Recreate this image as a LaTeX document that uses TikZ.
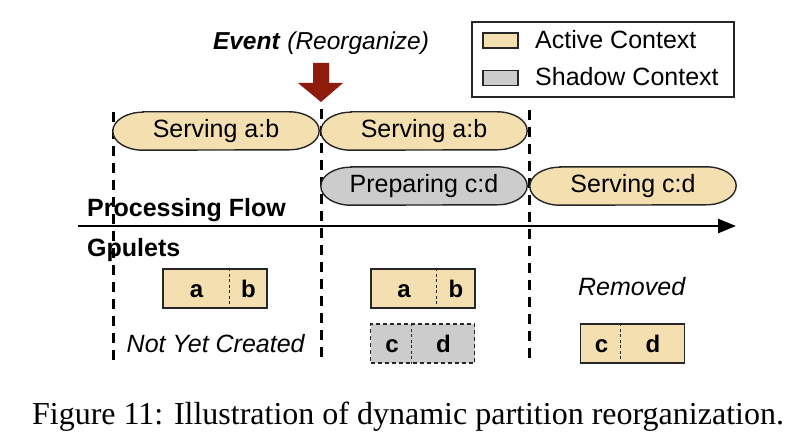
\documentclass[tikz,border=0pt]{standalone}
\usepackage{fontspec}
\setmainfont{Liberation Sans}
\newfontfamily\capfont{Liberation Serif}
\usetikzlibrary{arrows.meta,backgrounds,calc}
\definecolor{activec}{HTML}{F3DFB0}
\definecolor{shadowc}{HTML}{CCCCCC}
\definecolor{eventred}{HTML}{8E1B0C}
\definecolor{edgec}{HTML}{262626}
\newcommand\pillshape[2]{%
  \path[#2] ([xshift=30pt]#1.north west) -- ([xshift=-30pt]#1.north east)
    arc[start angle=90,end angle=-90,x radius=30pt,y radius=19pt]
    -- ([xshift=30pt]#1.south west)
    arc[start angle=270,end angle=90,x radius=30pt,y radius=19pt] -- cycle;}
\begin{document}
\begin{tikzpicture}[x=1pt,y=1pt,
  lbl/.style={font=\fontsize{25}{29}\selectfont, inner sep=0pt},
  pillnode/.style={lbl, minimum width=206pt, minimum height=38pt},
  activefill/.style={fill=activec, draw=edgec, line width=1.4pt},
  shadowfill/.style={fill=shadowc, draw=edgec, line width=1.4pt},
  divider/.style={draw=edgec, line width=1pt, dash pattern=on 3pt off 2.5pt},
  timeline/.style={line width=3pt, dash pattern=on 10pt off 7pt},
  gbox/.style={minimum width=104pt, minimum height=39pt, inner sep=0pt},
  letter/.style={font=\fontsize{24}{28}\selectfont\bfseries, inner sep=0pt, anchor=base},
  swatch/.style={minimum width=35pt, minimum height=15pt, inner sep=0pt, draw=edgec, line width=1.2pt},
]
\useasboundingbox (0,0) rectangle (795,440);

% time boundaries
\coordinate (t1top) at (113,328); \coordinate (t1bot) at (113,77);
\coordinate (t2top) at (321,331); \coordinate (t2bot) at (321,77);
\coordinate (t3top) at (529,330); \coordinate (t3bot) at (529,77);
\begin{scope}[on background layer]
  \draw[timeline] (t1top) -- (t1bot);
  \draw[timeline] (t2top) -- (t2bot);
  \draw[timeline] (t3top) -- (t3bot);
\end{scope}

% event
\node[lbl, font=\fontsize{24.5}{29}\selectfont, anchor=base] (event) at (321,390) {\textbf{\textit{Event}} \textit{(Reorganize)}};
\fill[eventred] (313,377) -- (329,377) -- (329,357) -- (343,357) -- (321,338) -- (298,357) -- (313,357) -- cycle;

% legend
\node[draw=edgec, line width=1.2pt, minimum width=262pt, minimum height=75pt, inner sep=0pt] (legend) at (603,380.5) {};
\node[swatch, fill=activec] (swA) at (500.5,399.5) {};
\node[swatch, fill=shadowc] (swS) at (500.5,362) {};
\node[lbl, anchor=base west] (legA) at (535,391) {Active Context};
\node[lbl, anchor=base west] (legS) at (535,354) {Shadow Context};

% processing flow pills
\node[pillnode] (sab1) at (216,309) {Serving a:b};
\node[pillnode] (sab2) at (424,309) {Serving a:b};
\node[pillnode] (pcd) at (424,254) {Preparing c:d};
\node[pillnode] (scd) at (633,254) {Serving c:d};
\begin{scope}[on background layer]
  \pillshape{sab1}{activefill}
  \pillshape{sab2}{activefill}
  \pillshape{pcd}{shadowfill}
  \pillshape{scd}{activefill}
\end{scope}

% axis
\node[lbl, font=\fontsize{25}{29}\selectfont\bfseries, anchor=base west] (pflow) at (87,224) {Processing Flow};
\coordinate (axstart) at (78,214);
\coordinate (axend) at (736,214);
\draw[line width=2.6pt, -{Triangle[length=18pt,width=14pt]}] (axstart) -- (axend);

\node[lbl, font=\fontsize{25}{29}\selectfont\bfseries, anchor=base west] (gpulets) at (87,184) {Gpulets};

% gpulets: before
\node[gbox, activefill] (ab1) at (215,151.5) {};
\draw[divider] ($(ab1.north west)+(67,0)$) -- ($(ab1.south west)+(67,0)$);
\node[letter] (ab1a) at (196.5,143) {a};
\node[letter] (ab1b) at (248.5,143) {b};
\node[lbl, anchor=base] (notyet) at (216,88) {\textit{Not Yet Created}};

% gpulets: during
\node[gbox, activefill] (ab2) at (423,151.5) {};
\draw[divider] ($(ab2.north west)+(66,0)$) -- ($(ab2.south west)+(66,0)$);
\node[letter] (ab2a) at (404,143) {a};
\node[letter] (ab2b) at (456,143) {b};
\node[gbox, shadowfill, dash pattern=on 4pt off 3pt] (cd1) at (422.5,96.5) {};
\draw[divider] ($(cd1.north west)+(42,0)$) -- ($(cd1.south west)+(42,0)$);
\node[letter] (cd1c) at (392,88) {c};
\node[letter] (cd1d) at (443.5,88) {d};

% gpulets: after
\node[lbl, anchor=base] (removed) at (632,145) {\textit{Removed}};
\node[gbox, activefill] (cd2) at (632.5,96.5) {};
\draw[divider] ($(cd2.north west)+(41,0)$) -- ($(cd2.south west)+(41,0)$);
\node[letter] (cd2c) at (601.5,88) {c};
\node[letter] (cd2d) at (653,88) {d};

% caption
\node[anchor=base, inner sep=0pt, font=\capfont\fontsize{32}{37}\selectfont] (caption) at (408,16) {Figure 11: Illustration of dynamic partition reorganization.};
\end{tikzpicture}
\end{document}
